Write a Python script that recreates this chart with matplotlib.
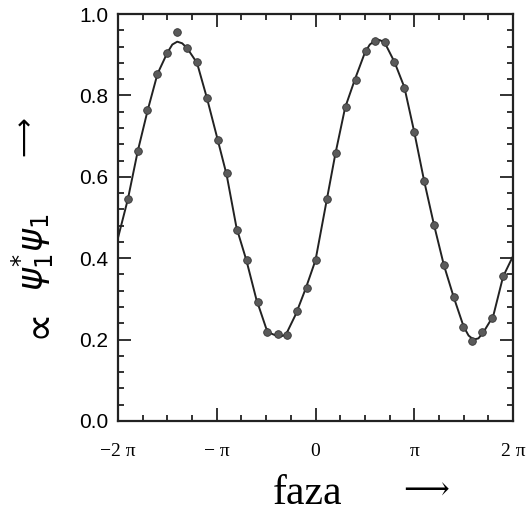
import numpy as np
import matplotlib
matplotlib.use("Agg")
import matplotlib.pyplot as plt

# phase in units of pi
curve_phase = [-2.0, -1.9, -1.8, -1.7, -1.6, -1.5, -1.45, -1.4, -1.35, -1.3, -1.2, -1.1, -1.0,
               -0.9, -0.8, -0.7, -0.6, -0.5, -0.45, -0.4, -0.35, -0.3, -0.2, -0.1, 0.0,
               0.1, 0.2, 0.3, 0.4, 0.5, 0.55, 0.6, 0.65, 0.7, 0.8, 0.9, 1.0,
               1.1, 1.2, 1.3, 1.4, 1.5, 1.55, 1.6, 1.65, 1.7, 1.8, 1.9, 2.0]
curve_value = [0.45, 0.545, 0.663, 0.763, 0.853, 0.905, 0.925, 0.932, 0.928, 0.916, 0.880, 0.794, 0.700,
               0.605, 0.475, 0.395, 0.300, 0.228, 0.215, 0.210, 0.208, 0.212, 0.262, 0.325, 0.395,
               0.525, 0.655, 0.770, 0.840, 0.905, 0.925, 0.934, 0.936, 0.930, 0.882, 0.820, 0.710,
               0.590, 0.482, 0.383, 0.304, 0.232, 0.210, 0.200, 0.203, 0.218, 0.258, 0.355, 0.405]

point_phase = [-1.894, -1.80, -1.709, -1.604, -1.507, -1.406, -1.305, -1.204, -1.103, -0.992, -0.894,
               -0.796, -0.695, -0.581, -0.487, -0.382, -0.285, -0.190, -0.089, 0.005,
               0.113, 0.204, 0.305, 0.406, 0.507, 0.604, 0.702, 0.796, 0.901, 0.998, 1.099,
               1.197, 1.298, 1.399, 1.493, 1.588, 1.689, 1.790, 1.901]
point_value = [0.545, 0.663, 0.763, 0.853, 0.905, 0.955, 0.916, 0.883, 0.794, 0.690, 0.609,
               0.469, 0.395, 0.292, 0.219, 0.213, 0.211, 0.270, 0.328, 0.395,
               0.545, 0.658, 0.772, 0.838, 0.910, 0.934, 0.931, 0.882, 0.819, 0.711, 0.590,
               0.482, 0.383, 0.304, 0.232, 0.197, 0.219, 0.254, 0.356]

xtick_labels = ["\u22122 \u03c0", "\u2212 \u03c0", "0", "\u03c0", "2 \u03c0"]
ytick_labels = ["0.0", "0.2", "0.4", "0.6", "0.8", "1.0"]

fig = plt.figure(figsize=(5.31, 5.12), dpi=100)
ax = fig.add_axes([118 / 531, 91 / 512, 395 / 531, 407 / 512])

ax.plot(np.array(curve_phase) * np.pi, curve_value, color="#222222", lw=1.4, zorder=2)
ax.plot(np.array(point_phase) * np.pi, point_value, "o", ms=5.5,
        mfc="#5a5a5a", mec="#333333", mew=0.6, zorder=3)

ax.set_xlim(-2 * np.pi, 2 * np.pi)
ax.set_ylim(0, 1)
ax.set_xticks(np.arange(-2, 3) * np.pi)
ax.set_xticks(np.arange(-2, 2.01, 0.25) * np.pi, minor=True)
ax.set_xticklabels(xtick_labels, family="Liberation Serif", fontsize=14)
ax.set_yticks(np.arange(0, 1.01, 0.2))
ax.set_yticks(np.arange(0, 1.001, 0.04), minor=True)
ax.set_yticklabels(ytick_labels, family="Liberation Sans", fontsize=15)

ax.tick_params(which="both", direction="in", top=True, right=True, width=1.3, color="#222222")
ax.tick_params(which="major", length=9.5)
ax.tick_params(which="minor", length=4.5)
ax.tick_params(axis="x", pad=16)
ax.tick_params(axis="y", pad=7)
for s in ax.spines.values():
    s.set_linewidth(1.6)
    s.set_color("#222222")

fig.text(308 / 531, 1 - 494 / 512, "faza", family="Liberation Serif", fontsize=30,
         ha="center", va="center")
fig.text(426 / 531, 1 - 491 / 512, "\u27f6", family="DejaVu Serif", fontsize=23,
         ha="center", va="center")
fig.text(33 / 531, 1 - 252 / 512, r"$\psi_1^{*}\psi_1$", fontsize=25,
         rotation=90, ha="center", va="center")
fig.text(38 / 531, 1 - 323 / 512, "\u221d", family="DejaVu Sans", fontsize=30,
         rotation=90, ha="center", va="center")
fig.text(24 / 531, 1 - 136 / 512, "\u27f6", family="DejaVu Sans", fontsize=20,
         rotation=90, ha="center", va="center")

fig.savefig("out.png", dpi=100)
